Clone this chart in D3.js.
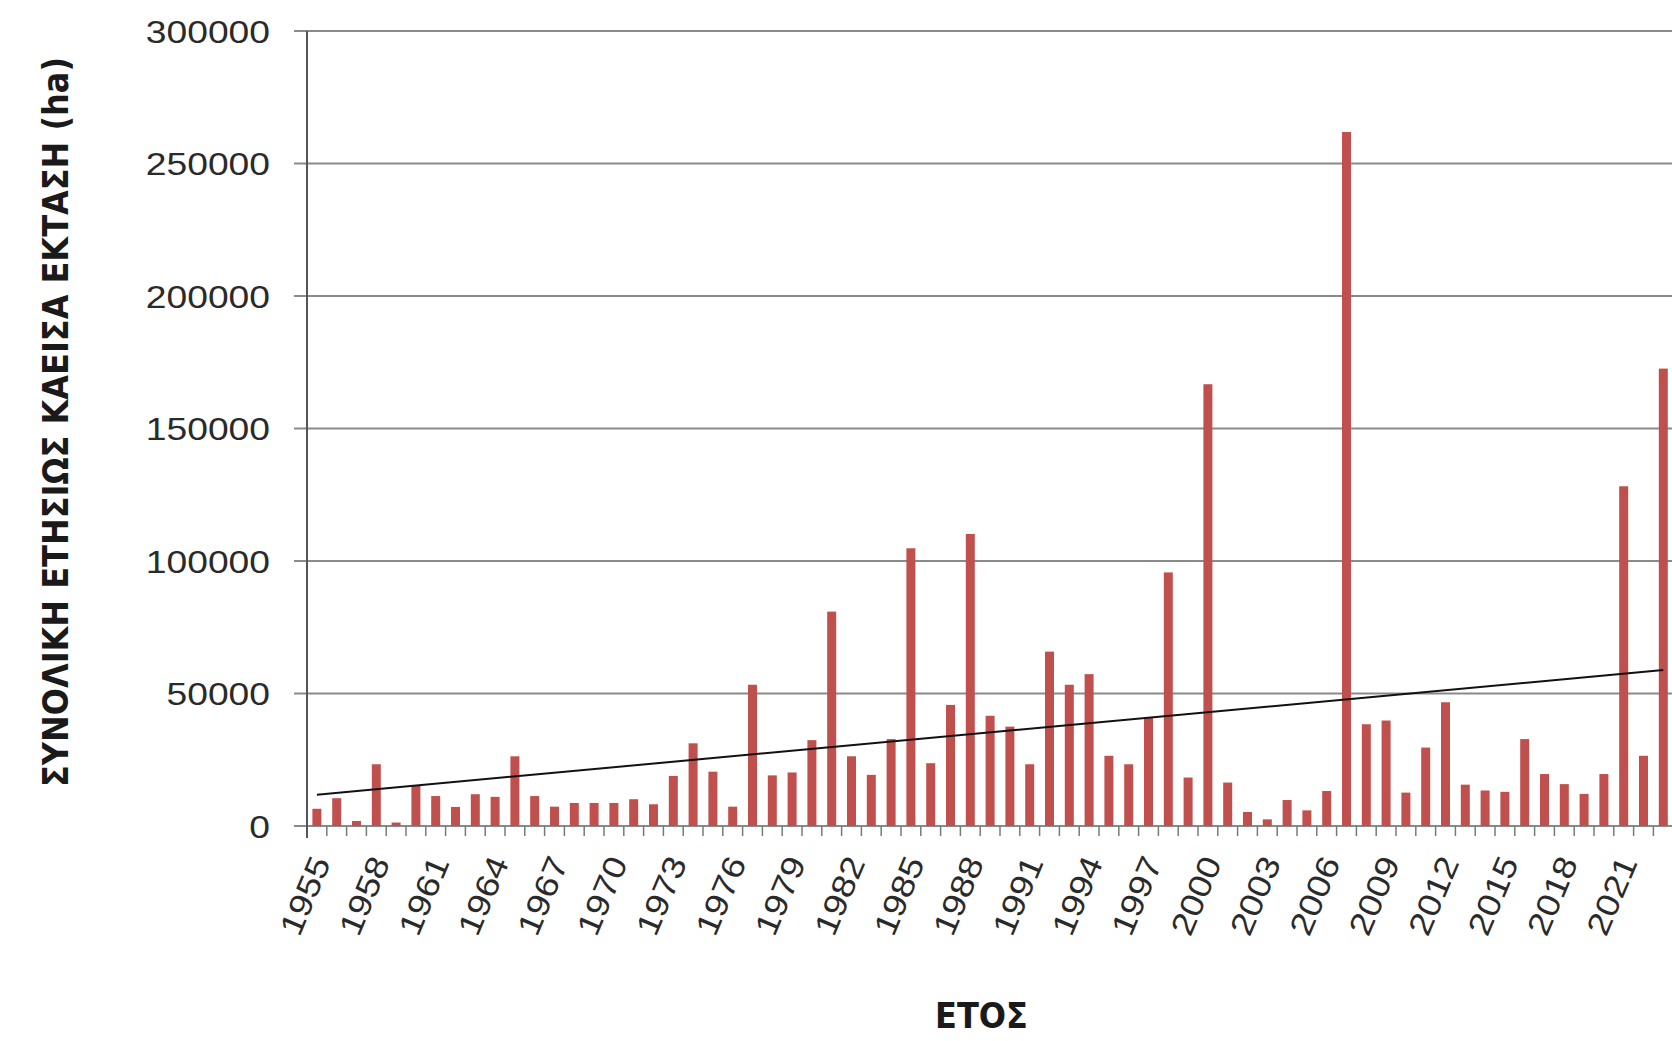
<!DOCTYPE html>
<html>
<head>
<meta charset="utf-8">
<script src="https://cdn.jsdelivr.net/npm/d3@7"></script>
<style>
  html, body { margin: 0; padding: 0; background: #ffffff; overflow: hidden; }
  svg { display: block; }
</style>
</head>
<body>
<svg id="chart" width="1672" height="1041"></svg>
<script>
const years = d3.range(1955, 2024);
const burned = [
  6500, 10500, 1900, 23300, 1300, 15100, 11300, 7200, 12000, 11000,
  26300, 11300, 7300, 8700, 8700, 8700, 10100, 8200, 18900, 31200,
  20500, 7300, 53300, 19100, 20200, 32400, 80900, 26300, 19300, 32800,
  104800, 23700, 45700, 110200, 41600, 37500, 23300, 65800, 53300, 57300,
  26500, 23300, 40900, 95700, 18300, 166700, 16400, 5300, 2500, 9800,
  5900, 13200, 261900, 38400, 39800, 12600, 29600, 46700, 15600, 13400,
  12900, 32800, 19600, 15800, 12100, 19600, 128200, 26500, 172600
];
const yTicks = [0, 50000, 100000, 150000, 200000, 250000, 300000];
const xLabelYears = years.filter(y => (y - 1955) % 3 === 0);
const yTitle = "ΣΥΝΟΛΙΚΗ ΕΤΗΣΙΩΣ ΚΑΕΙΣΑ ΕΚΤΑΣΗ (ha)";
const xTitle = "ΕΤΟΣ";

(function () {
const svg = d3.select("#chart");
const pLeft = 307, pBottom = 826, pTop = 31;
const step = 19.8;
const x = d3.scaleBand().domain(years).range([pLeft, pLeft + years.length * step]).padding(0);
const y = d3.scaleLinear().domain([0, 300000]).range([pBottom, pTop]);
const barW = 9;
const cx = d => x(d) + x.bandwidth() / 2;

// gridlines
svg.append("g").selectAll("line").data(yTicks).join("line")
  .attr("x1", pLeft - 13).attr("x2", 1672)
  .attr("y1", d => y(d)).attr("y2", d => y(d))
  .attr("stroke", "#8a8a8a").attr("stroke-width", 2);

// x ticks at band boundaries
svg.append("g").selectAll("line").data(years.slice(1)).join("line")
  .attr("x1", d => x(d)).attr("x2", d => x(d))
  .attr("y1", pBottom).attr("y2", pBottom + 10)
  .attr("stroke", "#6f7f74").attr("stroke-width", 1.5);

// bars
svg.append("g").selectAll("rect").data(years).join("rect")
  .attr("x", d => cx(d) - barW / 2)
  .attr("width", barW)
  .attr("y", (d, i) => y(burned[i]))
  .attr("height", (d, i) => pBottom - y(burned[i]))
  .attr("fill", "#c0504d");

// y axis line
svg.append("line")
  .attr("x1", pLeft).attr("x2", pLeft).attr("y1", pTop).attr("y2", pBottom + 12)
  .attr("stroke", "#555").attr("stroke-width", 2);

// linear trend (least squares from data)
const n = years.length;
const mx = d3.mean(years), my = d3.mean(burned);
let sxy = 0, sxx = 0;
years.forEach((yr, i) => { sxy += (yr - mx) * (burned[i] - my); sxx += (yr - mx) * (yr - mx); });
const slope = sxy / sxx, icpt = my - slope * mx;
const trendPts = [years[0], years[n - 1]].map(yr => [cx(yr), y(icpt + slope * yr)]);
svg.append("path")
  .attr("d", d3.line()(trendPts))
  .attr("stroke", "#111").attr("stroke-width", 2).attr("fill", "none");

// y tick labels
svg.append("g").selectAll("text").data(yTicks).join("text")
  .attr("x", 270).attr("y", d => y(d))
  .attr("dy", "0.36em")
  .attr("text-anchor", "end")
  .attr("font-family", "Liberation Sans, Arial, sans-serif")
  .attr("font-size", 32)
  .attr("fill", "#2a2a2a")
  .attr("textLength", d => String(d).length * 20.7)
  .attr("lengthAdjust", "spacingAndGlyphs")
  .text(d => d);

// x tick labels (rotated)
svg.append("g").selectAll("text").data(xLabelYears).join("text")
  .attr("transform", d => `translate(${cx(d) + 4},${858}) rotate(-67)`)
  .attr("dy", "0.35em")
  .attr("text-anchor", "end")
  .attr("font-family", "Liberation Sans, Arial, sans-serif")
  .attr("font-size", 32)
  .attr("fill", "#2a2a2a")
  .attr("textLength", 82)
  .attr("lengthAdjust", "spacingAndGlyphs")
  .text(d => d);

// axis titles
svg.append("text")
  .attr("transform", `translate(68,${422}) rotate(-90)`)
  .attr("text-anchor", "middle")
  .attr("font-family", "DejaVu Sans Condensed, Liberation Sans Narrow, sans-serif")
  .attr("font-weight", "bold")
  .attr("font-size", 35)
  .attr("fill", "#1a1a1a")
  .attr("textLength", 730)
  .attr("lengthAdjust", "spacingAndGlyphs")
  .text(yTitle);

svg.append("text")
  .attr("x", 981.5).attr("y", 1028)
  .attr("text-anchor", "middle")
  .attr("font-family", "DejaVu Sans Condensed, Liberation Sans Narrow, sans-serif")
  .attr("font-weight", "bold")
  .attr("font-size", 35)
  .attr("fill", "#1a1a1a")
  .attr("textLength", 93)
  .attr("lengthAdjust", "spacingAndGlyphs")
  .text(xTitle);
})();
</script>
</body>
</html>
